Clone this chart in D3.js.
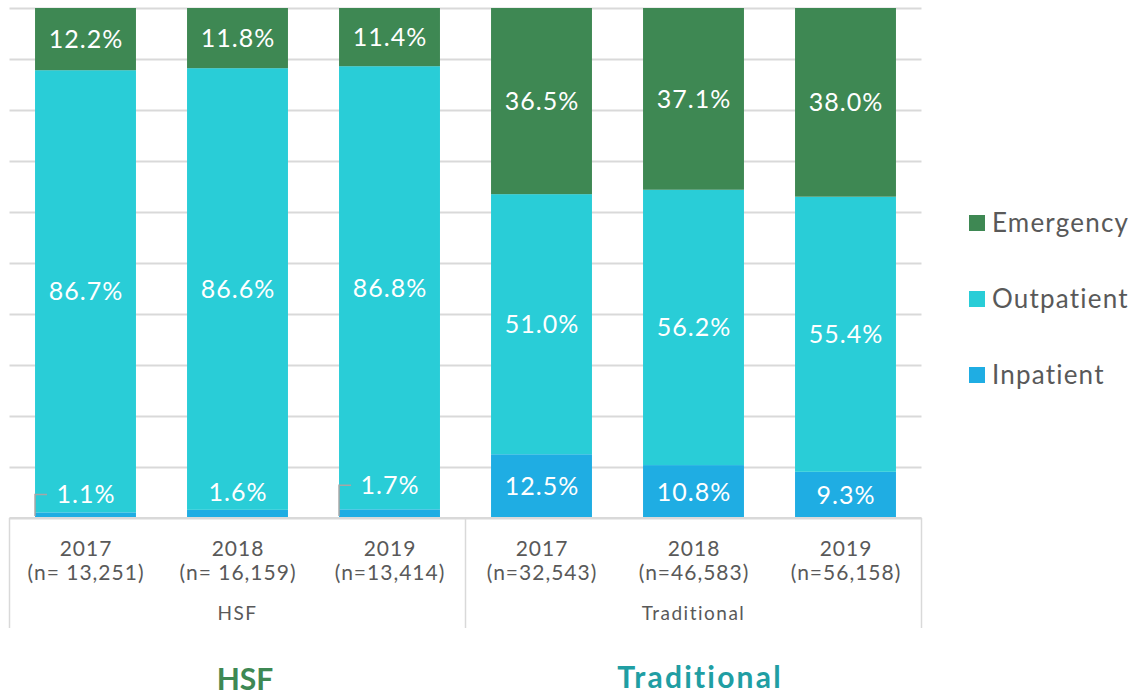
<!DOCTYPE html>
<html>
<head>
<meta charset="utf-8">
<script src="https://cdn.jsdelivr.net/npm/d3@7"></script>
<style>
  body { margin: 0; background: #fff; }
  svg { font-family: "Century Gothic", Lato, "DejaVu Sans", sans-serif; }
</style>
</head>
<body>
<svg width="1133" height="696"></svg>
<script>
// data
const groups = ['HSF', 'Traditional'];
const years = ['2017', '2018', '2019', '2017', '2018', '2019'];
const sampleSizes = ['(n= 13,251)', '(n= 16,159)', '(n=13,414)', '(n=32,543)', '(n=46,583)', '(n=56,158)'];
const groupOf = ['HSF', 'HSF', 'HSF', 'Traditional', 'Traditional', 'Traditional'];
const inpatient = [1.1, 1.6, 1.7, 12.5, 10.8, 9.3];
const outpatient = [86.7, 86.6, 86.8, 51.0, 56.2, 55.4];
const emergency = [12.2, 11.8, 11.4, 36.5, 37.1, 38.0];
const seriesNames = ['Inpatient', 'Outpatient', 'Emergency'];
const leaderLabels = [0, 2];   // small labels with a connector line

const svg = d3.select('svg');
const colors = { Inpatient: '#1fade3', Outpatient: '#29cdd7', Emergency: '#3e8853' };

const margin = { top: 8, left: 9.5, right: 211.5, bottom: 178 };
const width = +svg.attr('width');
const height = +svg.attr('height');
const innerW = width - margin.left - margin.right;
const innerH = height - margin.top - margin.bottom;

const rows = years.map((y, i) => ({
  i, Inpatient: inpatient[i], Outpatient: outpatient[i], Emergency: emergency[i]
}));

const stack = d3.stack().keys(seriesNames).offset(d3.stackOffsetExpand);
const stacked = stack(rows);

const x = d3.scaleBand().domain(d3.range(years.length)).range([0, innerW]).paddingInner(0.336).paddingOuter(0.168);
const y = d3.scaleLinear().domain([0, 1]).range([innerH, 0]);

const g = svg.append('g').attr('transform', `translate(${margin.left},${margin.top})`);

// gridlines
g.append('g')
  .call(d3.axisLeft(y).ticks(10).tickSize(-innerW).tickFormat(''))
  .call(a => a.select('.domain').remove())
  .selectAll('line').attr('stroke', '#d9d9d9').attr('stroke-width', 2);

// bars
const layers = g.selectAll('.layer').data(stacked).enter().append('g')
  .attr('fill', d => colors[d.key]);

layers.selectAll('rect').data(d => d).enter().append('rect')
  .attr('x', d => x(d.data.i))
  .attr('width', x.bandwidth())
  .attr('y', d => y(d[1]))
  .attr('height', d => y(d[0]) - y(d[1]));

// value labels
stacked.forEach(layer => {
  layer.forEach(d => {
    const val = d.data[layer.key];
    const cx = x(d.data.i) + x.bandwidth() / 2;
    let cy = (y(d[0]) + y(d[1])) / 2;
    const small = y(d[0]) - y(d[1]) < 30;
    if (small) cy = y(d[1]) - (d.data.i === 2 ? 24 : 18);
    g.append('text')
      .attr('x', cx + 0.5).attr('y', cy).attr('dy', '0.36em')
      .attr('text-anchor', 'middle')
      .attr('fill', '#fff').attr('font-size', 25).attr('letter-spacing', 1)
      .text(val.toFixed(1) + '%');
    if (small && leaderLabels.includes(d.data.i)) {
      const bx = x(d.data.i);
      g.append('path')
        .attr('d', `M${bx},${y(d[0]) - 2}V${cy}H${bx + 12}`)
        .attr('fill', 'none').attr('stroke', '#a6a6a6').attr('stroke-width', 1.5);
    }
  });
});

// category axis
const axisG = g.append('g').attr('transform', `translate(0,${innerH})`);
axisG.append('line').attr('x1', 0).attr('x2', innerW).attr('stroke', '#d9d9d9').attr('stroke-width', 2);
const step = x.step();
const sepX = [0, 3 * step, innerW];
sepX.forEach(sx => axisG.append('line')
  .attr('x1', sx).attr('x2', sx).attr('y1', 0).attr('y2', 110)
  .attr('stroke', '#d9d9d9').attr('stroke-width', 1.5));

years.forEach((yr, i) => {
  const cx = x(i) + x.bandwidth() / 2 + 0.5;
  axisG.append('text').attr('x', cx).attr('y', 38).attr('text-anchor', 'middle')
    .attr('fill', '#595959').attr('font-size', 21).attr('letter-spacing', 1).text(yr);
  axisG.append('text').attr('x', cx).attr('y', 62).attr('text-anchor', 'middle')
    .attr('fill', '#595959').attr('font-size', 21).attr('letter-spacing', 1).text(sampleSizes[i]);
});
groups.forEach(gr => {
  const idx = d3.range(years.length).filter(i => groupOf[i] === gr);
  const cx = (x(idx[0]) + x(idx[idx.length - 1]) + x.bandwidth()) / 2;
  axisG.append('text').attr('x', cx).attr('y', 102).attr('text-anchor', 'middle')
    .attr('fill', '#595959').attr('font-size', 19).attr('letter-spacing', 1.5).text(gr);
});

// legend
const legend = svg.append('g').attr('transform', 'translate(969,223)');
['Emergency', 'Outpatient', 'Inpatient'].forEach((k, i) => {
  const row = legend.append('g').attr('transform', `translate(0,${i * 76})`);
  row.append('rect').attr('x', 0).attr('y', -8).attr('width', 16).attr('height', 16).attr('fill', colors[k]);
  row.append('text').attr('x', 23).attr('dy', '0.36em').attr('fill', '#595959')
    .attr('font-size', 26).attr('letter-spacing', 1.2).text(k);
});

// group titles
svg.append('text').attr('x', 245).attr('y', 690).attr('text-anchor', 'middle')
  .attr('font-weight', 'bold').attr('font-size', 30).attr('fill', '#3e8853').text('HSF');
svg.append('text').attr('x', 700).attr('y', 688).attr('text-anchor', 'middle')
  .attr('font-weight', 'bold').attr('font-size', 30).attr('letter-spacing', 2.2)
  .attr('fill', '#209ea3').text('Traditional');
</script>
</body>
</html>
